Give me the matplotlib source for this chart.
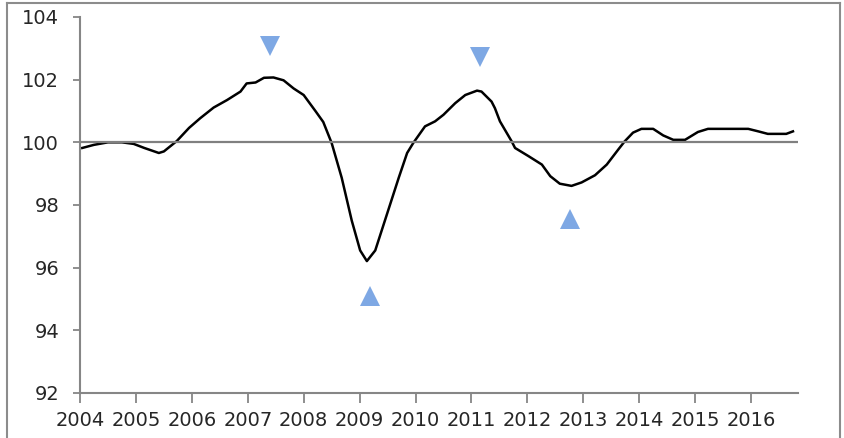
import matplotlib
matplotlib.use("Agg")
from matplotlib import pyplot as plt
from matplotlib.lines import Line2D

# values (year as decimal, index value)
years = [2004.04, 2004.25, 2004.5, 2004.75, 2004.96, 2005.15, 2005.41, 2005.5,
         2005.73, 2005.95, 2006.15, 2006.39, 2006.63, 2006.87, 2006.98, 2007.14,
         2007.29, 2007.46, 2007.64, 2007.82, 2008.0, 2008.21, 2008.35, 2008.5,
         2008.68, 2008.86, 2009.01, 2009.13, 2009.28, 2009.49, 2009.7, 2009.85,
         2009.96, 2010.17, 2010.35, 2010.5, 2010.71, 2010.89, 2011.1, 2011.18,
         2011.36, 2011.42, 2011.51, 2011.72, 2011.78, 2012.02, 2012.26, 2012.41,
         2012.58, 2012.79, 2012.97, 2013.21, 2013.42, 2013.63, 2013.74, 2013.89,
         2014.04, 2014.25, 2014.43, 2014.61, 2014.82, 2015.05, 2015.23, 2015.59,
         2015.95, 2016.13, 2016.3, 2016.63, 2016.75]
index = [99.82, 99.92, 100.0, 100.0, 99.95, 99.82, 99.66, 99.71,
         100.04, 100.46, 100.77, 101.11, 101.35, 101.62, 101.88, 101.91,
         102.06, 102.07, 101.98, 101.72, 101.51, 101.0, 100.65, 99.98,
         98.87, 97.5, 96.55, 96.21, 96.55, 97.71, 98.87, 99.66,
         99.98, 100.51, 100.67, 100.88, 101.25, 101.51, 101.65, 101.62,
         101.3, 101.09, 100.67, 100.03, 99.82, 99.56, 99.29, 98.92,
         98.68, 98.61, 98.72, 98.95, 99.29, 99.78, 100.03, 100.31,
         100.43, 100.43, 100.22, 100.08, 100.08, 100.33, 100.43, 100.43,
         100.43, 100.35, 100.27, 100.27, 100.35]

# turning points
peak_x = [2007.4, 2011.16]
peak_y = [103.07, 102.71]
trough_x = [2009.18, 2012.77]
trough_y = [95.1, 97.55]

tick_years = list(range(2004, 2017))
y_ticks = [92, 94, 96, 98, 100, 102, 104]

plt.rcParams["font.family"] = ["DejaVu Sans"]

fig = plt.figure(figsize=(8.44, 4.38), dpi=100)
ax = fig.add_axes([80 / 844, 1 - 393 / 438, 718 / 844, 376 / 438])

ax.plot(years, index, color="black", linewidth=1.8, zorder=2)
ax.axhline(100, color="#808080", linewidth=1.6, zorder=3)
ax.plot(peak_x, peak_y, linestyle="none", marker="v", markersize=15,
        color="#7ea8e4", markeredgewidth=0, zorder=4)
ax.plot(trough_x, trough_y, linestyle="none", marker="^", markersize=15,
        color="#7ea8e4", markeredgewidth=0, zorder=4)

ax.set_xlim(2004, 2016.84)
ax.set_ylim(92, 104)
ax.set_xticks(tick_years)
ax.set_xticklabels([str(y) for y in tick_years])
ax.set_yticks(y_ticks)

for side in ["top", "right"]:
    ax.spines[side].set_visible(False)
for side in ["left", "bottom"]:
    ax.spines[side].set_color("#868686")
    ax.spines[side].set_linewidth(1.5)

ax.tick_params(axis="y", direction="out", length=5, width=1.3, color="#868686",
               pad=10, labelsize=14, labelcolor="#262626")
ax.tick_params(axis="x", direction="out", length=7, width=1.3, color="#868686",
               pad=6, labelsize=14, labelcolor="#262626")

# outer chart frame
frame_kw = dict(color="#8c8c8c", linewidth=1.5, transform=fig.transFigure)
fig.add_artist(Line2D([7 / 844, 7 / 844], [0, 1 - 3 / 438], **frame_kw))
fig.add_artist(Line2D([840 / 844, 840 / 844], [0, 1 - 3 / 438], **frame_kw))
fig.add_artist(Line2D([7 / 844, 840 / 844], [1 - 3 / 438, 1 - 3 / 438], **frame_kw))

fig.savefig("out.png", dpi=100)
